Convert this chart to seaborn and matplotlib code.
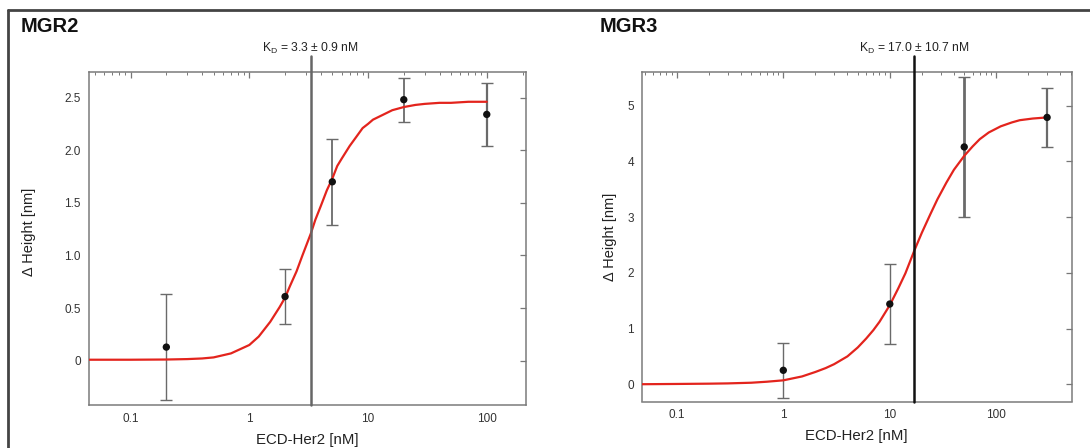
import numpy as np
import pandas as pd
import seaborn as sns
import matplotlib.pyplot as plt
from matplotlib.lines import Line2D
from matplotlib.ticker import FixedLocator, FixedFormatter, LogLocator, NullFormatter

# measured points (concentration in nM, response in nm, error)
mgr2_conc = [0.2, 2, 5, 20, 100]
mgr2_height = [0.13, 0.61, 1.70, 2.48, 2.34]
mgr2_err = [0.50, 0.26, 0.41, 0.21, 0.30]

mgr3_conc = [1, 10, 50, 300]
mgr3_height = [0.25, 1.44, 4.26, 4.79]
mgr3_err = [0.49, 0.71, 1.26, 0.53]

# fitted binding curves
mgr2_fit_x = [0.045, 0.1, 0.2, 0.3, 0.4, 0.5, 0.7, 1, 1.2, 1.5, 1.8, 2, 2.2,
              2.5, 2.8, 3.3, 3.6, 4, 4.5, 5, 5.5, 6, 7, 8, 9, 10, 11, 13,
              16, 20, 25, 30, 40, 50, 70, 100]
mgr2_fit_y = [0.01, 0.01, 0.012, 0.016, 0.022, 0.032, 0.07, 0.15, 0.23,
              0.37, 0.51, 0.60, 0.71, 0.85, 1.0, 1.21, 1.34, 1.47, 1.62,
              1.73, 1.85, 1.92, 2.04, 2.13, 2.21, 2.25, 2.29, 2.33, 2.38,
              2.41, 2.43, 2.44, 2.45, 2.45, 2.46, 2.46]

mgr3_fit_x = [0.045, 0.1, 0.2, 0.3, 0.5, 0.7, 1, 1.5, 2, 2.5, 3, 4, 5, 6, 7,
              8, 10, 12, 14, 17, 20, 24, 28, 34, 40, 50, 60, 70, 85, 110,
              140, 166, 220, 300]
mgr3_fit_y = [0.0, 0.005, 0.01, 0.015, 0.027, 0.045, 0.07, 0.14, 0.22, 0.29,
              0.36, 0.50, 0.66, 0.82, 0.97, 1.12, 1.42, 1.72, 1.99, 2.40,
              2.72, 3.05, 3.32, 3.62, 3.85, 4.10, 4.27, 4.40, 4.52, 4.63,
              4.70, 4.74, 4.77, 4.79]

kd_values = [3.3, 17.0]
kd_labels = ['K$_D$ = 3.3 ± 0.9 nM', 'K$_D$ = 17.0 ± 10.7 nM']
titles = ['MGR2', 'MGR3']

sns.set_theme(style='white')
plt.rcParams['font.family'] = ['Liberation Sans', 'DejaVu Sans']
plt.rcParams['mathtext.default'] = 'regular'

W, H = 1090, 448
fig = plt.figure(figsize=(W / 100, H / 100), dpi=100)
fig.patch.set_facecolor('white')


def box(x0, y0, x1, y1):
    return [x0 / W, 1 - y1 / H, (x1 - x0) / W, (y1 - y0) / H]


ax1 = fig.add_axes(box(88.5, 72.3, 526, 405))
ax2 = fig.add_axes(box(641.6, 72.3, 1072, 401.5))

panels = [
    (ax1, mgr2_conc, mgr2_height, mgr2_err, mgr2_fit_x, mgr2_fit_y, [1.0, 1.0, 1.3, 1.3, 1.6]),
    (ax2, mgr3_conc, mgr3_height, mgr3_err, mgr3_fit_x, mgr3_fit_y, [1.0, 1.0, 2.0, 1.6]),
]

for i, (ax, cx, cy, ce, fx, fy, bar_w) in enumerate(panels):
    fit = pd.DataFrame({'x': fx, 'y': fy})
    pts = pd.DataFrame({'x': cx, 'y': cy})
    sns.lineplot(data=fit, x='x', y='y', ax=ax, color='#e3241d', lw=1.6,
                 sort=False, estimator=None, zorder=3)
    for x, y, e, w in zip(cx, cy, ce, bar_w):
        ax.errorbar([x], [y], yerr=[e], fmt='none', ecolor='#6a6a6a',
                    elinewidth=w, capsize=4, capthick=1.0, zorder=2)
    sns.scatterplot(data=pts, x='x', y='y', ax=ax, color='#111111', s=28,
                    edgecolor='none', zorder=4)
    ax.set_xscale('log')

    kd_col = '#666666' if i == 0 else '#111111'
    ax.axvline(kd_values[i], ymin=0, ymax=1.05, color=kd_col, lw=1.8,
               clip_on=False, zorder=5)
    ax.text(kd_values[i], 1.072, kd_labels[i], transform=ax.get_xaxis_transform(),
            ha='center', va='center', fontsize=8.7, color='#222222')

    ax.xaxis.set_major_locator(FixedLocator([0.1, 1, 10, 100]))
    ax.xaxis.set_major_formatter(FixedFormatter(['0.1', '1', '10', '100']))
    ax.xaxis.set_minor_locator(LogLocator(base=10, subs=np.arange(2, 10), numticks=20))
    ax.xaxis.set_minor_formatter(NullFormatter())

    ax.tick_params(which='both', direction='in', top=True, right=True,
                   colors='#777777', labelcolor='#333333', labelsize=8.5)
    ax.tick_params(which='major', length=4, width=0.9, pad=5.5)
    ax.tick_params(which='minor', length=2.2, width=0.7)
    for sp in ax.spines.values():
        sp.set_color('#7a7a7a')
        sp.set_linewidth(1.1)

    ax.set_xlabel('ECD-Her2 [nM]', fontsize=10.8, color='#222222', labelpad=6)
    ax.set_ylabel('Δ Height [nm]', fontsize=10.5, color='#222222')

ax1.set_xlim(0.0442, 214)
ax1.set_ylim(-0.42, 2.74)
ax1.yaxis.set_major_locator(FixedLocator([0, 0.5, 1.0, 1.5, 2.0, 2.5]))
ax1.yaxis.set_major_formatter(FixedFormatter(['0', '0.5', '1.0', '1.5', '2.0', '2.5']))
ax1.yaxis.set_label_coords(-0.12, 0.52)

ax2.set_xlim(0.0467, 514)
ax2.set_ylim(-0.31, 5.6)
ax2.yaxis.set_major_locator(FixedLocator([0, 1, 2, 3, 4, 5]))
ax2.yaxis.set_major_formatter(FixedFormatter(['0', '1', '2', '3', '4', '5']))
ax2.yaxis.set_label_coords(-0.057, 0.5)

fig.text(21 / W, 1 - 26 / H, titles[0], fontsize=14.5, fontweight='bold',
         ha='left', va='center', color='#111111')
fig.text(600 / W, 1 - 26 / H, titles[1], fontsize=14.5, fontweight='bold',
         ha='left', va='center', color='#111111')

# outer frame lines (top and left)
fig.add_artist(Line2D([8 / W, 1], [1 - 10 / H, 1 - 10 / H], color='#444444', lw=2))
fig.add_artist(Line2D([8 / W, 8 / W], [0, 1 - 10 / H], color='#444444', lw=2))

fig.savefig('out.png', dpi=100, facecolor='white')
